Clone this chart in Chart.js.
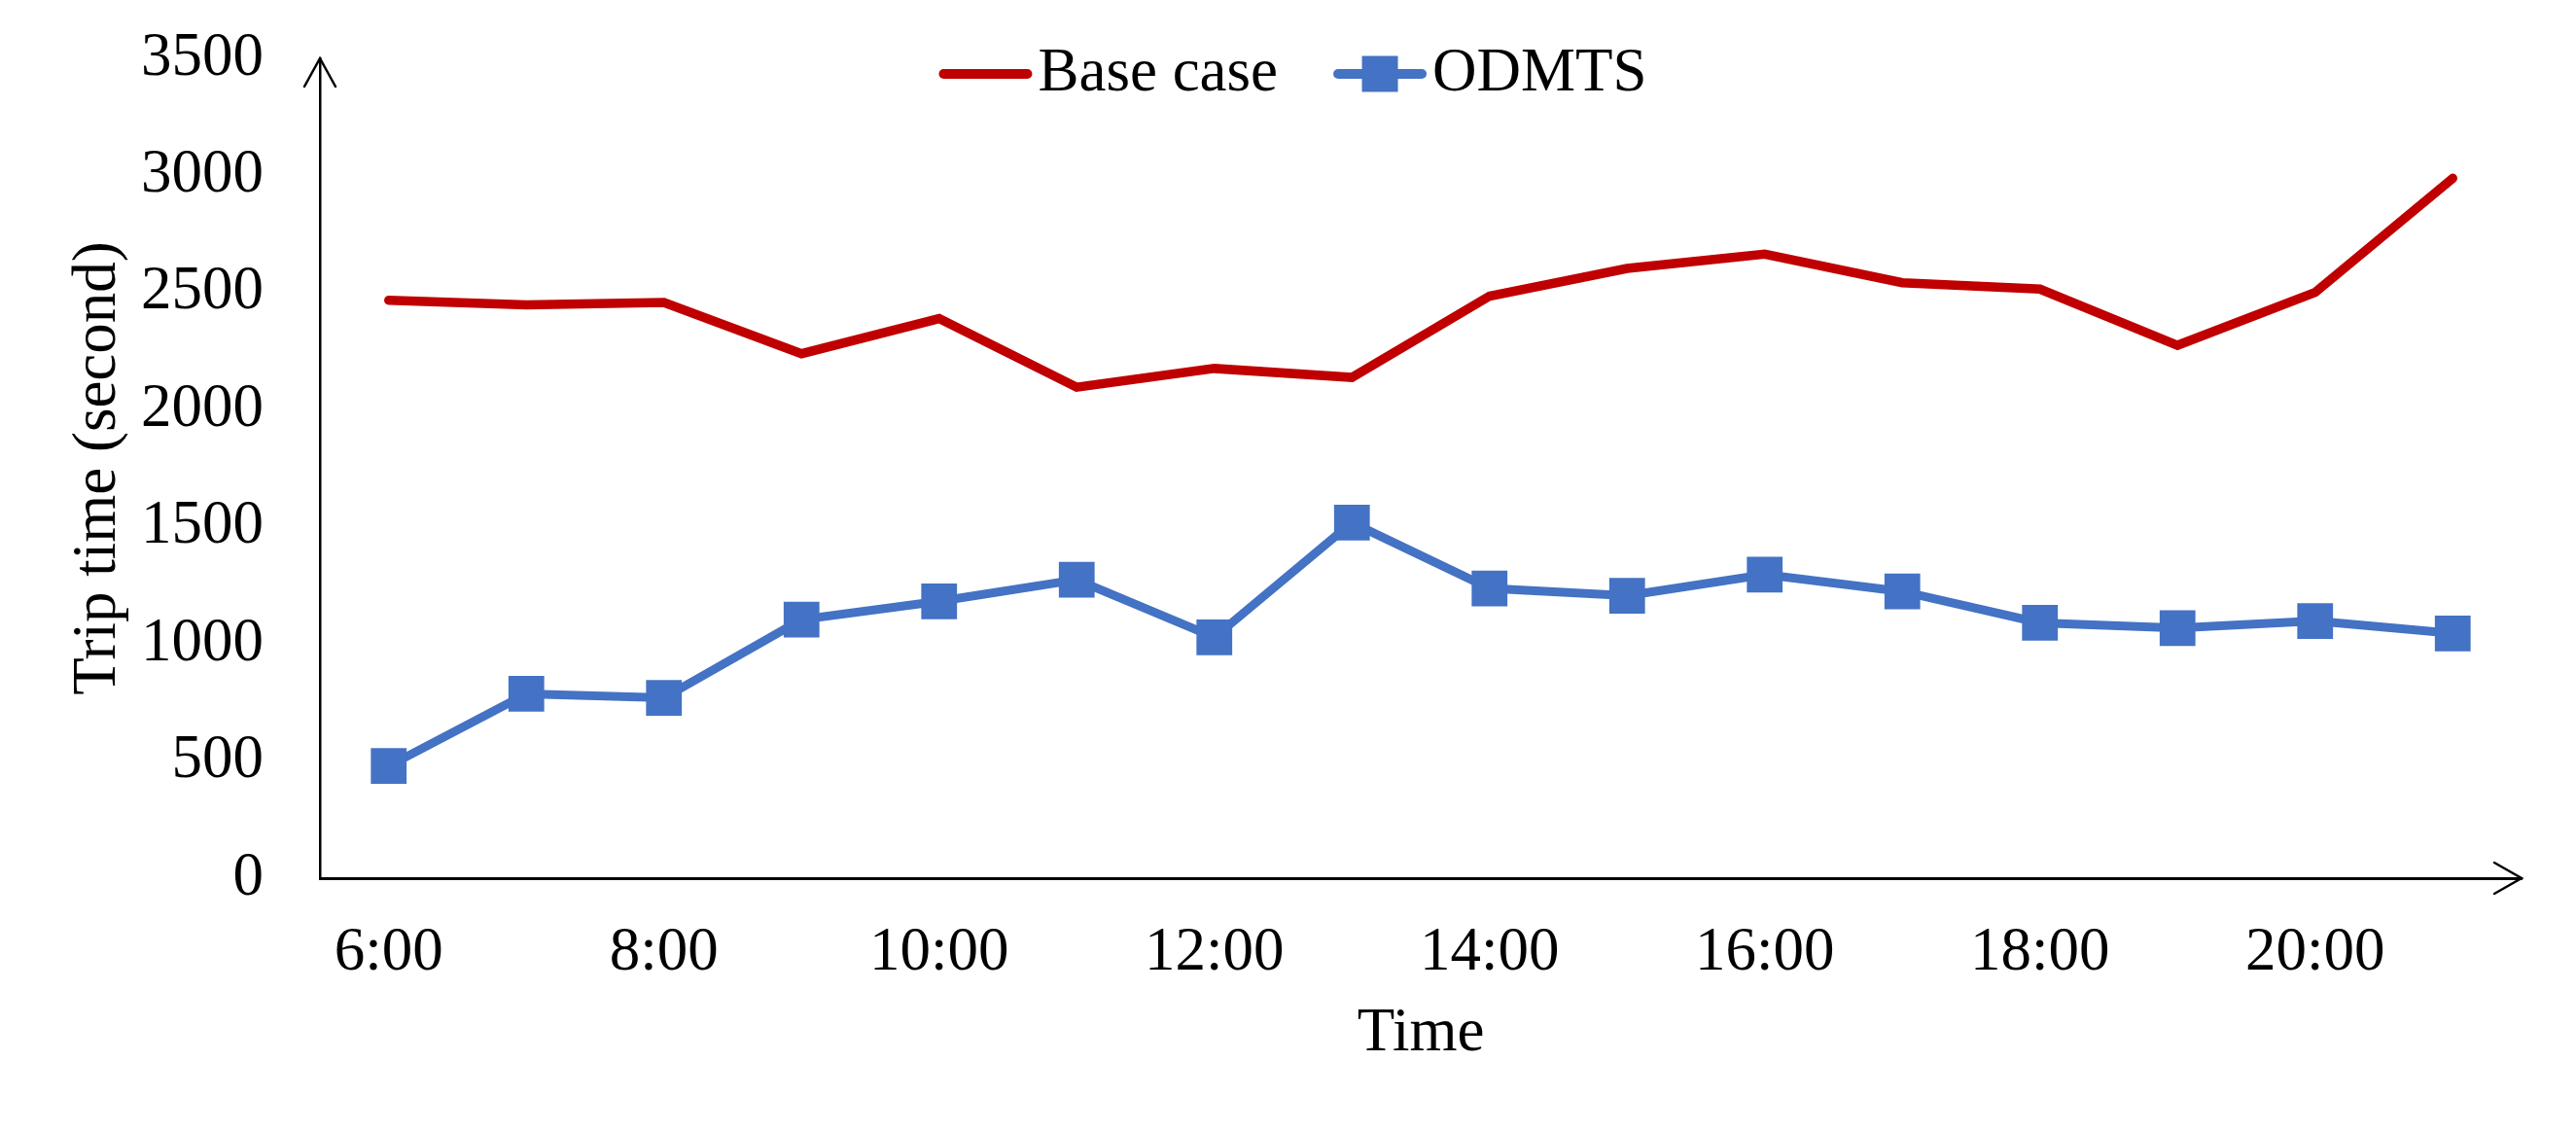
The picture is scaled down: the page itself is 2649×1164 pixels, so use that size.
<!DOCTYPE html>
<html><head><meta charset="utf-8">
<script src="https://cdn.jsdelivr.net/npm/chart.js@4"></script>
<style>html,body{margin:0;padding:0;background:#fff;overflow:hidden}canvas{display:block}</style>
</head><body>
<canvas id="c" width="2649" height="1164" style="width:2649px;height:1164px"></canvas>
<script>
// ---- data ----
const hours = ['6:00','7:00','8:00','9:00','10:00','11:00','12:00','13:00','14:00','15:00','16:00','17:00','18:00','19:00','20:00','21:00'];
const shownHourLabels = ['6:00','8:00','10:00','12:00','14:00','16:00','18:00','20:00'];
const baseCase = [2467,2448,2458,2239,2389,2096,2176,2138,2485,2603,2664,2542,2515,2275,2501,2988];
const odmts    = [479,787,770,1104,1182,1274,1028,1518,1237,1206,1296,1224,1090,1068,1098,1045];
const yTickValues = [0,500,1000,1500,2000,2500,3000,3500];
const seriesNames = ['Base case','ODMTS'];
const xTitle = 'Time';
const yTitle = 'Trip time (second)';

const RED = '#C00000', BLUE = '#4472C4';
const FONT = '"Liberation Serif", "Times New Roman", serif';
const FS = 63;

const arrowPlugin = {
  id: 'axisArrows',
  afterDraw(chart) {
    const {ctx, chartArea: a} = chart;
    ctx.save();
    ctx.strokeStyle = '#000';
    ctx.lineWidth = 2.5;
    ctx.lineCap = 'round';
    ctx.beginPath();
    ctx.moveTo(a.left - 16, a.top + 29);
    ctx.lineTo(a.left, a.top);
    ctx.lineTo(a.left + 16, a.top + 29);
    ctx.stroke();
    ctx.beginPath();
    ctx.moveTo(a.right - 28, a.bottom - 16);
    ctx.lineTo(a.right, a.bottom);
    ctx.lineTo(a.right - 28, a.bottom + 16);
    ctx.stroke();
    ctx.restore();
  }
};

const legendPlugin = {
  id: 'customLegend',
  afterDraw(chart) {
    const ctx = chart.ctx;
    ctx.save();
    ctx.font = FS + 'px ' + FONT;
    ctx.textBaseline = 'middle';
    const sampleW = 96, gapText = 6, gapItem = 57;
    const ds = chart.data.datasets;
    const widths = ds.map(d => sampleW + gapText + ctx.measureText(d.label).width);
    const total = widths.reduce((s, w) => s + w, 0) + gapItem * (ds.length - 1);
    let x = chart.width / 2 + 5 - total / 2;
    const y = 76;
    ds.forEach((d, i) => {
      ctx.strokeStyle = d.borderColor;
      ctx.lineWidth = 10;
      ctx.lineCap = 'round';
      ctx.beginPath();
      ctx.moveTo(x + 5, y);
      ctx.lineTo(x + sampleW - 5, y);
      ctx.stroke();
      if (d.pointRadius > 0) {
        ctx.fillStyle = d.pointBackgroundColor;
        const s = 37;
        ctx.fillRect(x + sampleW / 2 - s / 2, y - s / 2, s, s);
      }
      ctx.fillStyle = '#000';
      ctx.textAlign = 'left';
      ctx.fillText(d.label, x + sampleW + gapText, y);
      x += widths[i] + gapItem;
    });
    ctx.restore();
  }
};

new Chart(document.getElementById('c'), {
  type: 'line',
  data: {
    labels: hours,
    datasets: [
      {
        label: seriesNames[0], data: baseCase,
        borderColor: RED, backgroundColor: RED, borderWidth: 9.5,
        borderCapStyle: 'round', pointRadius: 0, pointHoverRadius: 0, tension: 0
      },
      {
        label: seriesNames[1], data: odmts,
        borderColor: BLUE, backgroundColor: BLUE, borderWidth: 9,
        pointStyle: 'rect', pointRadius: 26, pointHoverRadius: 26,
        pointBackgroundColor: BLUE, pointBorderColor: BLUE, pointBorderWidth: 0, tension: 0
      }
    ]
  },
  options: {
    responsive: false,
    animation: false,
    devicePixelRatio: 1,
    layout: { padding: { top: 60, right: 56, left: 0, bottom: 0 } },
    plugins: { legend: { display: false }, tooltip: { enabled: false }, title: { display: false } },
    scales: {
      x: {
        type: 'category',
        offset: true,
        grid: { display: false, drawTicks: false },
        border: { display: true, color: '#000', width: 3 },
        ticks: {
          autoSkip: false, maxRotation: 0, minRotation: 0,
          color: '#000', font: { family: FONT, size: FS }, padding: 40,
          callback: function(v) { const l = this.getLabelForValue(v); return shownHourLabels.includes(l) ? l : ''; }
        },
        title: { display: true, text: xTitle, color: '#000', font: { family: FONT, size: FS }, padding: { top: 0, bottom: 63 } },
        afterFit(scale) { scale.height = 261; scale.paddingLeft = 0; scale.paddingRight = 0; }
      },
      y: {
        min: 0, max: 3500,
        afterBuildTicks(scale) { scale.ticks = yTickValues.map(v => ({ value: v })); },
        grid: { display: false, drawTicks: false },
        border: { display: true, color: '#000', width: 2.5 },
        ticks: { color: '#000', font: { family: FONT, size: FS }, padding: 58, callback: v => String(v) },
        title: { display: true, text: yTitle, color: '#000', font: { family: FONT, size: FS }, padding: { top: 64, bottom: 0 } },
        afterFit(scale) { scale.width = 329; scale.paddingTop = 0; scale.paddingBottom = 0; }
      }
    }
  },
  plugins: [arrowPlugin, legendPlugin]
});
</script>
</body></html>
